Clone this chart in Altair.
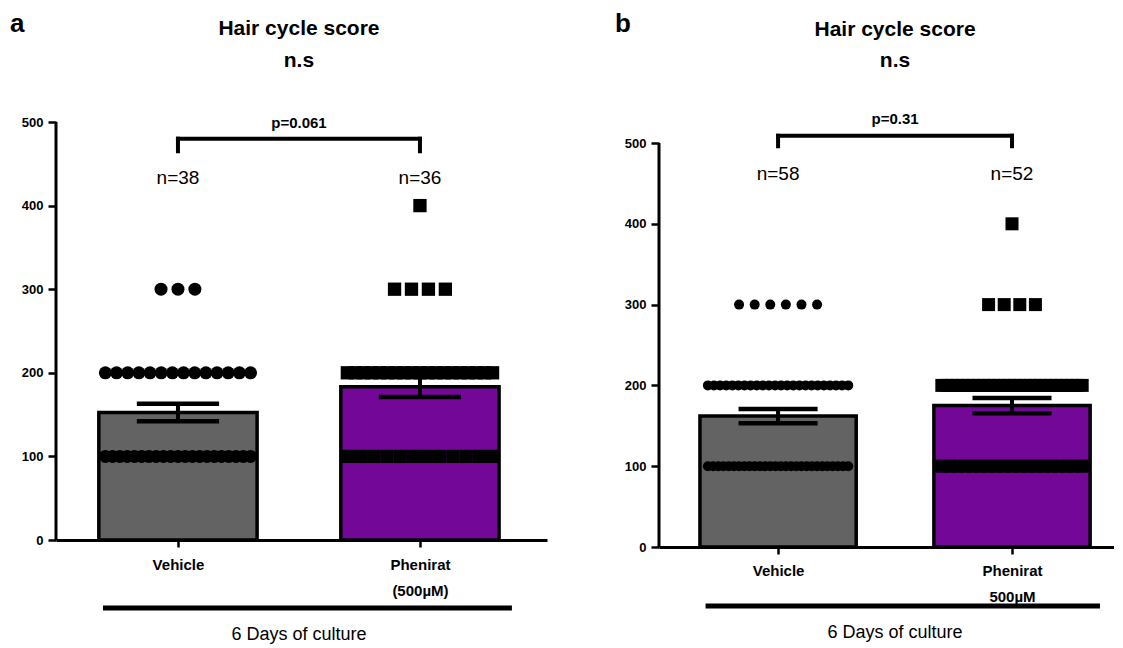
import altair as alt
import pandas as pd

FONT = "Liberation Sans"

# ---------------- data ----------------
levels = [100, 200, 300, 400]
groups = ["Vehicle", "Phenirat"]

# number of samples at each score level (100, 200, 300, 400)
a_vehicle_counts = [21, 14, 3, 0]
a_phenirat_counts = [12, 19, 4, 1]
b_vehicle_counts = [28, 24, 6, 0]
b_phenirat_counts = [19, 28, 4, 1]

a_xlabels = [["Vehicle"], ["Phenirat", "(500µM)"]]
b_xlabels = [["Vehicle"], ["Phenirat", "500µM"]]
a_pvalue = "p=0.061"
b_pvalue = "p=0.31"
title_text = "Hair cycle score"
subtitle_text = "n.s"
group_text = "6 Days of culture"
y_ticks = [0, 100, 200, 300, 400, 500]
y_axis_top = 500
bar_colors = ["#636363", "#730798"]

# ---------------- layout settings ----------------
geo_a = dict(letter="a", w=491, h=418, ymax=500, domain=[-0.504, 1.525], letter_x=-46, letter_y=-90,
             title_y=-87, sub_y=-55, bracket_y=480, bracket_tip=465, p_y=493, n_y=426,
             spacing=0.07, span=0.6, bar_half=0.327, cap_half=0.17, circle=169, square=177,
             line=[-0.31, 1.38], line_y=68, group_y=100, label_pad=10)
geo_b = dict(letter="b", w=455, h=425, ymax=526, domain=[-0.509, 1.436], letter_x=-44, letter_y=-90,
             title_y=-86, sub_y=-55, bracket_y=509, bracket_tip=496, p_y=523, n_y=454,
             spacing=0.0667, span=0.6, bar_half=0.334, cap_half=0.169, circle=100, square=169,
             line=[-0.31, 1.376], line_y=59, group_y=91, label_pad=9)


def points_table(counts_list, spacing, span):
    rows = []
    for gi, counts in enumerate(counts_list):
        for level, c in zip(levels, counts):
            step = spacing if c < 2 else min(spacing, span / (c - 1))
            for i in range(c):
                rows.append({"group": groups[gi], "pos": gi, "score": level,
                             "xp": gi + (i - (c - 1) / 2) * step})
    return pd.DataFrame(rows)


def js_lines(lines):
    return "[" + ", ".join("'" + s + "'" for s in lines) + "]"


def panel(g, counts_list, xlabels, pvalue):
    xs = alt.Scale(domain=g["domain"], nice=False, zero=False)
    ys = alt.Scale(domain=[0, g["ymax"]], nice=False, zero=True)
    pts = points_table(counts_list, g["spacing"], g["span"])

    xaxis = alt.Axis(values=[0, 1],
                     labelExpr=f"datum.value == 0 ? {js_lines(xlabels[0])} : {js_lines(xlabels[1])}",
                     title=None, grid=False, tickSize=7, tickWidth=2.5, tickColor="black",
                     domainColor="black", domainWidth=3, labelFont=FONT, labelFontSize=15,
                     labelFontWeight="bold", labelColor="black", labelPadding=g["label_pad"],
                     labelLineHeight=26, labelAngle=0, labelFlush=False, labelOverlap=False)
    yaxis = alt.Axis(values=y_ticks, format="d", title=None, grid=False, domain=False, tickSize=8,
                     tickWidth=2.5, tickColor="black",
                     labelFont=FONT, labelFontSize=13, labelFontWeight="bold",
                     labelColor="black", labelPadding=5)

    base = alt.Chart(pts)
    stats = base.transform_aggregate(
        mean="mean(score)", sem="stderr(score)", groupby=["pos", "group"]
    ).transform_calculate(
        lo="datum.mean - datum.sem", hi="datum.mean + datum.sem",
        bl=f"datum.pos - {g['bar_half']}", br=f"datum.pos + {g['bar_half']}",
        cl=f"datum.pos - {g['cap_half']}", cr=f"datum.pos + {g['cap_half']}",
    )

    bars = stats.mark_bar(stroke="black", strokeWidth=3.5).encode(
        x=alt.X("bl:Q", scale=xs, axis=xaxis, title=None),
        x2="br:Q",
        y=alt.Y("mean:Q", scale=ys, axis=yaxis, title=None),
        y2=alt.datum(0),
        color=alt.Color("group:N", scale=alt.Scale(domain=groups, range=bar_colors), legend=None),
    )

    # y axis line, from 0 to the top tick
    yline = alt.Chart(pd.DataFrame({"y": [0], "y2": [y_axis_top]})).mark_rule(
        color="black", strokeWidth=3
    ).encode(x=alt.value(0), y=alt.Y("y:Q", scale=ys, title=None), y2="y2:Q")

    circles = base.transform_filter("datum.pos == 0").mark_point(
        shape="circle", filled=True, opacity=1, strokeWidth=0, color="black", size=g["circle"]
    ).encode(x=alt.X("xp:Q", scale=xs, title=None), y=alt.Y("score:Q", scale=ys, title=None))
    squares = base.transform_filter("datum.pos == 1").mark_point(
        shape="square", filled=True, opacity=1, strokeWidth=0, color="black", size=g["square"]
    ).encode(x=alt.X("xp:Q", scale=xs, title=None), y=alt.Y("score:Q", scale=ys, title=None))

    stem = stats.mark_rule(color="black", strokeWidth=4).encode(
        x=alt.X("pos:Q", scale=xs, title=None), y=alt.Y("lo:Q", scale=ys, title=None), y2="hi:Q")
    cap_hi = stats.mark_rule(color="black", strokeWidth=4.5).encode(
        x=alt.X("cl:Q", scale=xs, title=None), x2="cr:Q", y=alt.Y("hi:Q", scale=ys, title=None))
    cap_lo = stats.mark_rule(color="black", strokeWidth=4.5).encode(
        x=alt.X("cl:Q", scale=xs, title=None), x2="cr:Q", y=alt.Y("lo:Q", scale=ys, title=None))

    br = pd.DataFrame({"x": [0, 0, 1], "x2": [1, 0, 1],
                       "y": [g["bracket_y"]] * 3,
                       "y2": [g["bracket_y"], g["bracket_tip"], g["bracket_tip"]]})
    bracket = alt.Chart(br).mark_rule(color="black", strokeWidth=4, strokeCap="square").encode(
        x=alt.X("x:Q", scale=xs, title=None), x2="x2:Q",
        y=alt.Y("y:Q", scale=ys, title=None), y2="y2:Q")

    ptext = alt.Chart(pd.DataFrame({"t": [pvalue]})).mark_text(
        font=FONT, fontSize=15, fontWeight="bold", color="black", baseline="alphabetic"
    ).encode(text="t:N", x=alt.datum(0.5), y=alt.datum(g["p_y"]))

    n_df = pd.DataFrame({"pos": [0, 1], "t": ["n=%d" % sum(c) for c in counts_list]})
    ntext = alt.Chart(n_df).mark_text(
        font=FONT, fontSize=19, color="black", baseline="alphabetic"
    ).encode(text="t:N", x=alt.X("pos:Q", scale=xs, title=None), y=alt.datum(g["n_y"]))

    letter = alt.Chart(pd.DataFrame({"t": [g["letter"]]})).mark_text(
        font=FONT, fontSize=26, fontWeight="bold", color="black", align="left", baseline="alphabetic"
    ).encode(text="t:N", x=alt.value(g["letter_x"]), y=alt.value(g["letter_y"]))

    title = alt.Chart(pd.DataFrame({"t": [title_text]})).mark_text(
        font=FONT, fontSize=21, fontWeight="bold", color="black", baseline="alphabetic"
    ).encode(text="t:N", x=alt.datum(0.5), y=alt.value(g["title_y"]))
    sub = alt.Chart(pd.DataFrame({"t": [subtitle_text]})).mark_text(
        font=FONT, fontSize=21, fontWeight="bold", color="black", baseline="alphabetic"
    ).encode(text="t:N", x=alt.datum(0.5), y=alt.value(g["sub_y"]))

    gline = alt.Chart(pd.DataFrame({"x": [g["line"][0]], "x2": [g["line"][1]]})).mark_rule(
        color="black", strokeWidth=5
    ).encode(x=alt.X("x:Q", scale=xs, title=None), x2="x2:Q", y=alt.value(g["h"] + g["line_y"]))
    gtext = alt.Chart(pd.DataFrame({"t": [group_text]})).mark_text(
        font=FONT, fontSize=18, color="black", baseline="alphabetic"
    ).encode(text="t:N", x=alt.datum(0.5), y=alt.value(g["h"] + g["group_y"]))

    return alt.layer(bars, yline, circles, squares, stem, cap_hi, cap_lo, bracket, ptext, ntext,
                     letter, title, sub, gline, gtext).properties(width=g["w"], height=g["h"])


pa = panel(geo_a, [a_vehicle_counts, a_phenirat_counts], a_xlabels, a_pvalue)
pb = panel(geo_b, [b_vehicle_counts, b_phenirat_counts], b_xlabels, b_pvalue)

chart = alt.hconcat(pa, pb, spacing=68).properties(
    padding={"left": 2, "top": 3, "right": 0, "bottom": 0}
).configure_view(stroke=None)

chart.save("out.html", embed_options={"renderer": "svg", "actions": False})
